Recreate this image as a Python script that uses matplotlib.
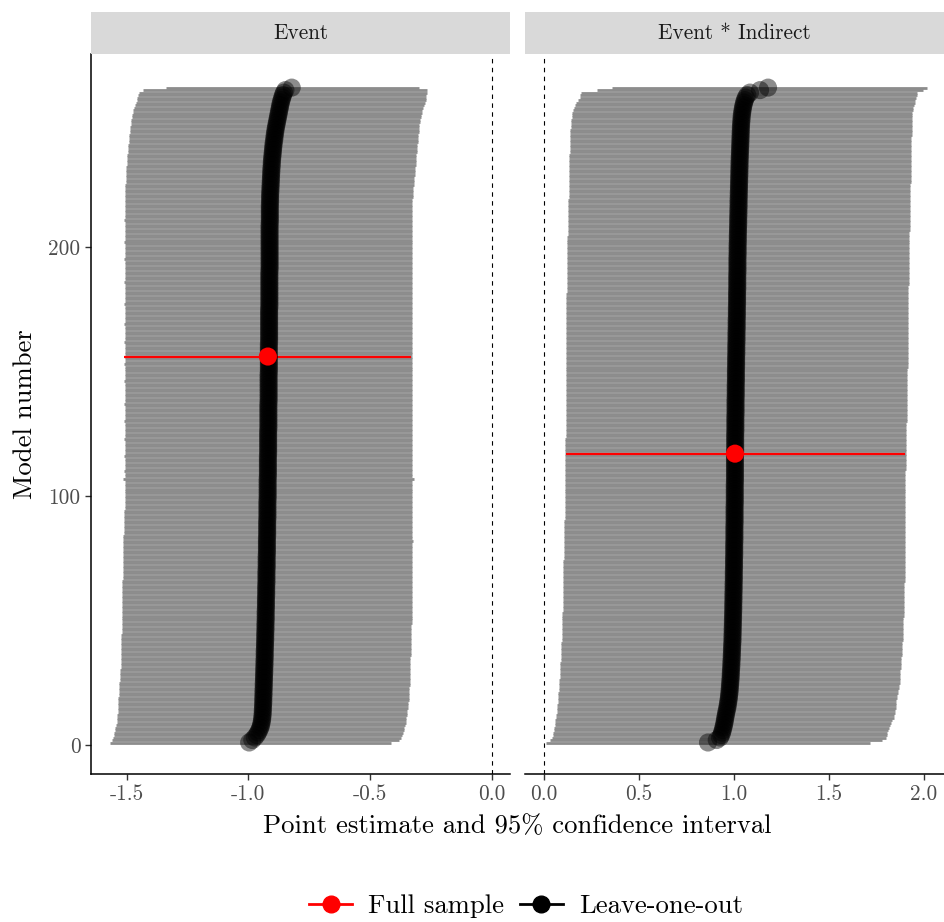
import numpy as np
import matplotlib
matplotlib.use('Agg')
import matplotlib.pyplot as plt
from matplotlib.lines import Line2D

plt.rcParams['font.family'] = ['cmr10', 'DejaVu Serif']
plt.rcParams['axes.unicode_minus'] = False
plt.rcParams['mathtext.fontset'] = 'cm'

panels = ['Event', 'Event * Indirect']

# leave-one-out estimates, sorted (model number = position)
event_est = [
    -0.997, -0.984, -0.974, -0.966, -0.960, -0.955, -0.951, -0.948, -0.946, -0.944, -0.943, -0.942,
    -0.941, -0.941, -0.940, -0.940, -0.939, -0.939, -0.939, -0.938, -0.938, -0.938, -0.937, -0.937,
    -0.937, -0.936, -0.936, -0.936, -0.935, -0.935, -0.935, -0.934, -0.934, -0.934, -0.933, -0.933,
    -0.933, -0.933, -0.932, -0.932, -0.932, -0.931, -0.931, -0.931, -0.931, -0.930, -0.930, -0.930,
    -0.930, -0.929, -0.929, -0.929, -0.929, -0.929, -0.928, -0.928, -0.928, -0.928, -0.928, -0.927,
    -0.927, -0.927, -0.927, -0.927, -0.926, -0.926, -0.926, -0.926, -0.926, -0.926, -0.925, -0.925,
    -0.925, -0.925, -0.925, -0.925, -0.924, -0.924, -0.924, -0.924, -0.924, -0.924, -0.924, -0.923,
    -0.923, -0.923, -0.923, -0.923, -0.923, -0.923, -0.922, -0.922, -0.922, -0.922, -0.922, -0.922,
    -0.922, -0.922, -0.921, -0.921, -0.921, -0.921, -0.921, -0.921, -0.921, -0.921, -0.921, -0.920,
    -0.920, -0.920, -0.920, -0.920, -0.920, -0.920, -0.920, -0.920, -0.919, -0.919, -0.919, -0.919,
    -0.919, -0.919, -0.919, -0.919, -0.919, -0.919, -0.918, -0.918, -0.918, -0.918, -0.918, -0.918,
    -0.918, -0.918, -0.918, -0.918, -0.918, -0.917, -0.917, -0.917, -0.917, -0.917, -0.917, -0.917,
    -0.917, -0.917, -0.917, -0.917, -0.917, -0.916, -0.916, -0.916, -0.916, -0.916, -0.916, -0.916,
    -0.916, -0.916, -0.916, -0.916, -0.916, -0.915, -0.915, -0.915, -0.915, -0.915, -0.915, -0.915,
    -0.915, -0.915, -0.915, -0.915, -0.915, -0.915, -0.915, -0.914, -0.914, -0.914, -0.914, -0.914,
    -0.914, -0.914, -0.914, -0.914, -0.914, -0.914, -0.914, -0.914, -0.914, -0.914, -0.913, -0.913,
    -0.913, -0.913, -0.913, -0.913, -0.913, -0.913, -0.913, -0.913, -0.913, -0.913, -0.913, -0.913,
    -0.913, -0.913, -0.913, -0.913, -0.913, -0.912, -0.912, -0.912, -0.912, -0.912, -0.912, -0.912,
    -0.912, -0.911, -0.911, -0.911, -0.911, -0.910, -0.910, -0.909, -0.909, -0.908, -0.908, -0.907,
    -0.907, -0.906, -0.906, -0.905, -0.904, -0.904, -0.903, -0.902, -0.901, -0.900, -0.899, -0.898,
    -0.897, -0.896, -0.894, -0.893, -0.892, -0.890, -0.889, -0.887, -0.885, -0.883, -0.881, -0.879,
    -0.877, -0.875, -0.873, -0.871, -0.869, -0.867, -0.864, -0.861, -0.858, -0.854, -0.848, -0.822,
]
event_lo = [
    -1.570, -1.562, -1.556, -1.553, -1.551, -1.549, -1.547, -1.544, -1.542, -1.541, -1.540, -1.539,
    -1.538, -1.537, -1.536, -1.535, -1.535, -1.534, -1.534, -1.533, -1.532, -1.532, -1.531, -1.530,
    -1.530, -1.529, -1.528, -1.527, -1.526, -1.526, -1.525, -1.525, -1.525, -1.524, -1.524, -1.524,
    -1.523, -1.523, -1.523, -1.523, -1.522, -1.522, -1.522, -1.522, -1.521, -1.521, -1.521, -1.521,
    -1.521, -1.521, -1.520, -1.520, -1.520, -1.520, -1.520, -1.519, -1.519, -1.519, -1.519, -1.519,
    -1.518, -1.518, -1.518, -1.518, -1.518, -1.518, -1.517, -1.517, -1.517, -1.517, -1.517, -1.517,
    -1.517, -1.517, -1.516, -1.516, -1.516, -1.516, -1.516, -1.515, -1.515, -1.515, -1.514, -1.514,
    -1.513, -1.513, -1.512, -1.512, -1.511, -1.511, -1.510, -1.510, -1.510, -1.510, -1.509, -1.509,
    -1.509, -1.509, -1.509, -1.509, -1.509, -1.509, -1.509, -1.509, -1.509, -1.509, -1.515, -1.509,
    -1.509, -1.510, -1.509, -1.509, -1.508, -1.509, -1.509, -1.510, -1.509, -1.509, -1.509, -1.508,
    -1.509, -1.509, -1.510, -1.509, -1.509, -1.508, -1.509, -1.509, -1.509, -1.510, -1.509, -1.509,
    -1.508, -1.509, -1.509, -1.509, -1.510, -1.509, -1.509, -1.508, -1.509, -1.509, -1.509, -1.509,
    -1.509, -1.510, -1.509, -1.509, -1.509, -1.508, -1.509, -1.509, -1.510, -1.509, -1.509, -1.509,
    -1.509, -1.509, -1.508, -1.509, -1.509, -1.510, -1.509, -1.509, -1.509, -1.509, -1.508, -1.509,
    -1.510, -1.509, -1.509, -1.509, -1.508, -1.509, -1.509, -1.509, -1.510, -1.509, -1.509, -1.509,
    -1.509, -1.508, -1.509, -1.509, -1.509, -1.510, -1.509, -1.509, -1.508, -1.509, -1.509, -1.509,
    -1.509, -1.509, -1.510, -1.509, -1.508, -1.509, -1.509, -1.509, -1.509, -1.510, -1.509, -1.509,
    -1.509, -1.508, -1.509, -1.509, -1.509, -1.509, -1.510, -1.509, -1.509, -1.508, -1.509, -1.509,
    -1.509, -1.509, -1.508, -1.508, -1.508, -1.508, -1.507, -1.506, -1.506, -1.505, -1.504, -1.504,
    -1.503, -1.503, -1.502, -1.502, -1.501, -1.500, -1.499, -1.498, -1.497, -1.496, -1.495, -1.494,
    -1.493, -1.492, -1.491, -1.490, -1.489, -1.488, -1.487, -1.486, -1.484, -1.483, -1.481, -1.480,
    -1.478, -1.476, -1.473, -1.469, -1.466, -1.462, -1.460, -1.456, -1.452, -1.450, -1.434, -1.340,
]
event_hi = [
    -0.416, -0.382, -0.372, -0.367, -0.364, -0.361, -0.359, -0.356, -0.354, -0.352, -0.351, -0.350,
    -0.348, -0.347, -0.345, -0.344, -0.343, -0.342, -0.341, -0.340, -0.340, -0.339, -0.339, -0.338,
    -0.338, -0.338, -0.337, -0.337, -0.337, -0.336, -0.336, -0.335, -0.335, -0.334, -0.334, -0.333,
    -0.333, -0.333, -0.332, -0.332, -0.332, -0.331, -0.331, -0.331, -0.330, -0.330, -0.330, -0.330,
    -0.329, -0.329, -0.329, -0.329, -0.328, -0.328, -0.328, -0.328, -0.328, -0.327, -0.327, -0.327,
    -0.327, -0.327, -0.327, -0.327, -0.327, -0.327, -0.327, -0.327, -0.327, -0.327, -0.327, -0.327,
    -0.327, -0.327, -0.327, -0.327, -0.327, -0.327, -0.327, -0.327, -0.327, -0.322, -0.327, -0.327,
    -0.327, -0.327, -0.327, -0.327, -0.327, -0.327, -0.327, -0.327, -0.327, -0.327, -0.327, -0.327,
    -0.327, -0.327, -0.327, -0.327, -0.327, -0.327, -0.327, -0.327, -0.327, -0.327, -0.320, -0.327,
    -0.327, -0.326, -0.327, -0.327, -0.328, -0.327, -0.327, -0.326, -0.327, -0.327, -0.327, -0.328,
    -0.327, -0.327, -0.326, -0.327, -0.327, -0.328, -0.327, -0.327, -0.327, -0.326, -0.327, -0.327,
    -0.328, -0.327, -0.327, -0.327, -0.326, -0.327, -0.327, -0.328, -0.327, -0.327, -0.327, -0.327,
    -0.327, -0.326, -0.327, -0.327, -0.327, -0.328, -0.327, -0.327, -0.326, -0.327, -0.327, -0.327,
    -0.327, -0.327, -0.328, -0.327, -0.327, -0.326, -0.327, -0.327, -0.327, -0.327, -0.328, -0.327,
    -0.326, -0.327, -0.327, -0.327, -0.328, -0.327, -0.327, -0.327, -0.326, -0.327, -0.327, -0.327,
    -0.327, -0.328, -0.327, -0.327, -0.327, -0.326, -0.327, -0.327, -0.328, -0.327, -0.327, -0.327,
    -0.327, -0.327, -0.326, -0.327, -0.328, -0.327, -0.327, -0.327, -0.327, -0.326, -0.327, -0.327,
    -0.327, -0.328, -0.327, -0.327, -0.327, -0.327, -0.326, -0.327, -0.327, -0.328, -0.327, -0.327,
    -0.327, -0.326, -0.326, -0.325, -0.324, -0.324, -0.323, -0.322, -0.321, -0.320, -0.319, -0.318,
    -0.317, -0.316, -0.315, -0.314, -0.313, -0.313, -0.312, -0.311, -0.310, -0.309, -0.308, -0.307,
    -0.306, -0.305, -0.304, -0.303, -0.302, -0.301, -0.300, -0.299, -0.297, -0.295, -0.293, -0.291,
    -0.289, -0.287, -0.285, -0.282, -0.279, -0.276, -0.272, -0.270, -0.269, -0.268, -0.268, -0.300,
]

inter_est = [
    0.863, 0.909, 0.926, 0.933, 0.937, 0.941, 0.944, 0.947, 0.950, 0.952, 0.954, 0.957,
    0.959, 0.962, 0.965, 0.967, 0.969, 0.971, 0.973, 0.974, 0.976, 0.977, 0.978, 0.979,
    0.980, 0.981, 0.982, 0.983, 0.983, 0.984, 0.985, 0.986, 0.986, 0.987, 0.988, 0.988,
    0.989, 0.989, 0.990, 0.990, 0.991, 0.992, 0.992, 0.992, 0.993, 0.993, 0.993, 0.994,
    0.994, 0.994, 0.995, 0.995, 0.995, 0.996, 0.996, 0.996, 0.996, 0.997, 0.997, 0.997,
    0.997, 0.998, 0.998, 0.998, 0.998, 0.999, 0.999, 0.999, 0.999, 0.999, 1.000, 1.000,
    1.000, 1.000, 1.000, 1.001, 1.001, 1.001, 1.001, 1.001, 1.001, 1.002, 1.002, 1.002,
    1.002, 1.002, 1.002, 1.002, 1.003, 1.003, 1.003, 1.003, 1.003, 1.003, 1.003, 1.003,
    1.004, 1.004, 1.004, 1.004, 1.004, 1.004, 1.004, 1.004, 1.004, 1.005, 1.005, 1.005,
    1.005, 1.005, 1.005, 1.005, 1.005, 1.005, 1.005, 1.005, 1.005, 1.006, 1.006, 1.006,
    1.006, 1.006, 1.006, 1.006, 1.006, 1.007, 1.007, 1.007, 1.007, 1.007, 1.007, 1.007,
    1.008, 1.008, 1.008, 1.008, 1.008, 1.008, 1.008, 1.009, 1.009, 1.009, 1.009, 1.009,
    1.009, 1.010, 1.010, 1.010, 1.010, 1.010, 1.010, 1.011, 1.011, 1.011, 1.011, 1.011,
    1.012, 1.012, 1.012, 1.012, 1.012, 1.013, 1.013, 1.013, 1.013, 1.013, 1.014, 1.014,
    1.014, 1.014, 1.014, 1.015, 1.015, 1.015, 1.015, 1.015, 1.016, 1.016, 1.016, 1.016,
    1.016, 1.016, 1.017, 1.017, 1.017, 1.017, 1.017, 1.017, 1.017, 1.018, 1.018, 1.018,
    1.018, 1.018, 1.018, 1.018, 1.019, 1.019, 1.019, 1.019, 1.019, 1.020, 1.020, 1.020,
    1.020, 1.021, 1.021, 1.021, 1.022, 1.022, 1.022, 1.022, 1.023, 1.023, 1.023, 1.024,
    1.024, 1.024, 1.024, 1.025, 1.025, 1.025, 1.026, 1.026, 1.026, 1.027, 1.027, 1.027,
    1.028, 1.028, 1.028, 1.029, 1.029, 1.029, 1.030, 1.030, 1.031, 1.031, 1.032, 1.032,
    1.033, 1.033, 1.034, 1.034, 1.035, 1.035, 1.036, 1.036, 1.037, 1.038, 1.039, 1.040,
    1.041, 1.043, 1.045, 1.047, 1.050, 1.053, 1.057, 1.062, 1.070, 1.084, 1.137, 1.179,
]
inter_lo = [
    0.010, 0.032, 0.040, 0.045, 0.049, 0.052, 0.055, 0.057, 0.058, 0.060, 0.062, 0.064,
    0.066, 0.068, 0.070, 0.071, 0.072, 0.073, 0.074, 0.075, 0.076, 0.077, 0.078, 0.079,
    0.080, 0.081, 0.082, 0.083, 0.084, 0.084, 0.085, 0.086, 0.086, 0.087, 0.088, 0.088,
    0.089, 0.089, 0.090, 0.091, 0.092, 0.093, 0.093, 0.094, 0.094, 0.095, 0.095, 0.096,
    0.096, 0.096, 0.097, 0.097, 0.097, 0.098, 0.098, 0.098, 0.098, 0.099, 0.099, 0.099,
    0.099, 0.099, 0.100, 0.100, 0.100, 0.100, 0.100, 0.100, 0.101, 0.101, 0.101, 0.102,
    0.102, 0.102, 0.103, 0.103, 0.103, 0.104, 0.104, 0.104, 0.105, 0.105, 0.105, 0.106,
    0.106, 0.106, 0.107, 0.107, 0.107, 0.107, 0.108, 0.108, 0.108, 0.108, 0.109, 0.109,
    0.109, 0.109, 0.110, 0.110, 0.110, 0.110, 0.110, 0.111, 0.111, 0.111, 0.111, 0.111,
    0.111, 0.111, 0.112, 0.112, 0.112, 0.112, 0.112, 0.112, 0.113, 0.113, 0.113, 0.113,
    0.113, 0.113, 0.113, 0.114, 0.114, 0.114, 0.114, 0.114, 0.114, 0.114, 0.115, 0.115,
    0.115, 0.115, 0.115, 0.115, 0.115, 0.115, 0.115, 0.116, 0.116, 0.116, 0.116, 0.116,
    0.116, 0.116, 0.116, 0.116, 0.116, 0.116, 0.116, 0.116, 0.116, 0.116, 0.116, 0.116,
    0.116, 0.116, 0.116, 0.116, 0.117, 0.117, 0.117, 0.117, 0.117, 0.117, 0.117, 0.117,
    0.117, 0.117, 0.117, 0.117, 0.118, 0.118, 0.118, 0.118, 0.118, 0.118, 0.118, 0.118,
    0.118, 0.119, 0.119, 0.119, 0.119, 0.119, 0.119, 0.120, 0.120, 0.120, 0.120, 0.120,
    0.120, 0.121, 0.121, 0.121, 0.121, 0.122, 0.122, 0.122, 0.122, 0.123, 0.123, 0.123,
    0.124, 0.124, 0.124, 0.125, 0.125, 0.125, 0.126, 0.126, 0.126, 0.127, 0.127, 0.127,
    0.128, 0.128, 0.128, 0.129, 0.129, 0.129, 0.130, 0.130, 0.130, 0.131, 0.131, 0.131,
    0.132, 0.132, 0.132, 0.133, 0.133, 0.133, 0.134, 0.134, 0.134, 0.135, 0.135, 0.136,
    0.136, 0.137, 0.137, 0.138, 0.138, 0.139, 0.139, 0.140, 0.141, 0.142, 0.143, 0.145,
    0.147, 0.149, 0.152, 0.156, 0.162, 0.170, 0.180, 0.190, 0.192, 0.195, 0.277, 0.356,
]
inter_hi = [
    1.716, 1.777, 1.800, 1.803, 1.806, 1.810, 1.815, 1.820, 1.826, 1.832, 1.840, 1.844,
    1.846, 1.848, 1.850, 1.852, 1.853, 1.855, 1.857, 1.859, 1.861, 1.864, 1.867, 1.870,
    1.871, 1.872, 1.873, 1.874, 1.875, 1.876, 1.877, 1.878, 1.879, 1.880, 1.881, 1.882,
    1.883, 1.884, 1.885, 1.886, 1.886, 1.887, 1.887, 1.888, 1.888, 1.889, 1.889, 1.890,
    1.890, 1.891, 1.891, 1.892, 1.892, 1.893, 1.893, 1.894, 1.894, 1.895, 1.895, 1.896,
    1.896, 1.896, 1.897, 1.897, 1.897, 1.898, 1.898, 1.898, 1.899, 1.899, 1.899, 1.899,
    1.900, 1.900, 1.900, 1.900, 1.900, 1.900, 1.900, 1.900, 1.900, 1.900, 1.900, 1.900,
    1.900, 1.900, 1.900, 1.900, 1.900, 1.900, 1.900, 1.900, 1.900, 1.900, 1.900, 1.900,
    1.900, 1.900, 1.900, 1.900, 1.901, 1.901, 1.901, 1.901, 1.901, 1.902, 1.902, 1.902,
    1.902, 1.902, 1.903, 1.903, 1.903, 1.903, 1.904, 1.904, 1.904, 1.904, 1.905, 1.905,
    1.905, 1.905, 1.906, 1.906, 1.906, 1.906, 1.907, 1.907, 1.907, 1.908, 1.908, 1.908,
    1.908, 1.909, 1.909, 1.909, 1.909, 1.910, 1.910, 1.910, 1.910, 1.910, 1.911, 1.911,
    1.911, 1.911, 1.911, 1.912, 1.912, 1.912, 1.912, 1.913, 1.913, 1.913, 1.913, 1.913,
    1.914, 1.914, 1.914, 1.914, 1.914, 1.915, 1.915, 1.915, 1.915, 1.915, 1.916, 1.916,
    1.916, 1.916, 1.916, 1.917, 1.917, 1.917, 1.917, 1.917, 1.918, 1.918, 1.918, 1.918,
    1.918, 1.918, 1.918, 1.918, 1.919, 1.919, 1.919, 1.919, 1.919, 1.920, 1.920, 1.920,
    1.920, 1.920, 1.921, 1.921, 1.921, 1.921, 1.922, 1.922, 1.922, 1.922, 1.923, 1.923,
    1.923, 1.923, 1.924, 1.924, 1.924, 1.925, 1.925, 1.925, 1.925, 1.926, 1.926, 1.926,
    1.926, 1.927, 1.927, 1.927, 1.927, 1.928, 1.928, 1.928, 1.928, 1.929, 1.929, 1.929,
    1.929, 1.930, 1.930, 1.930, 1.930, 1.930, 1.931, 1.931, 1.931, 1.931, 1.932, 1.932,
    1.932, 1.933, 1.933, 1.933, 1.934, 1.934, 1.935, 1.935, 1.936, 1.936, 1.937, 1.937,
    1.938, 1.939, 1.940, 1.942, 1.945, 1.950, 1.953, 1.958, 1.962, 1.965, 1.997, 2.014,
]

# full-sample estimate per panel
full_est = [-0.920, 1.005]
full_lo = [-1.512, 0.116]
full_hi = [-0.330, 1.900]
full_model = [156, 117]

est_all = [event_est, inter_est]
lo_all = [event_lo, inter_lo]
hi_all = [event_hi, inter_hi]

xticks_all = [[-1.5, -1.0, -0.5, 0.0], [0.0, 0.5, 1.0, 1.5, 2.0]]
xticklabels_all = [['-1.5', '-1.0', '-0.5', '0.0'], ['0.0', '0.5', '1.0', '1.5', '2.0']]
xlims = [(-1.647, 0.075), (-0.100, 2.105)]
yticks = [0, 100, 200]

W, H = 944, 922
fig = plt.figure(figsize=(W / 100, H / 100), dpi=100)

panel_left = [91, 525]
panel_w = 419
panel_top, panel_bot = 54, 774
strip_h = 42
tick_fs = 15.3
title_fs = 19.2

for i in range(2):
    ax = fig.add_axes([panel_left[i] / W, (H - panel_bot) / H, panel_w / W,
                       (panel_bot - panel_top) / H])
    est = np.array(est_all[i])
    models = np.arange(1, len(est) + 1)
    ax.hlines(models, lo_all[i], hi_all[i], color='#8c8c8c', lw=2.0, zorder=1)
    ax.axvline(0, color='black', lw=0.8, ls=(0, (4, 4)), zorder=0)
    ax.hlines(full_model[i], full_lo[i], full_hi[i], color='#ff0000', lw=1.6, zorder=2)
    ax.scatter(est, models, s=170, color='black', alpha=0.45, edgecolors='none', zorder=3)
    ax.scatter([full_est[i]], [full_model[i]], s=170, color='#ff0000',
               edgecolors='none', zorder=4)

    ax.set_xlim(*xlims[i])
    ax.set_ylim(-11.65, 277.5)
    ax.set_xticks(xticks_all[i])
    ax.set_xticklabels(xticklabels_all[i], fontsize=tick_fs, color='#4d4d4d')
    ax.tick_params(axis='x', length=4.5, width=1.0, color='#333333', pad=3)
    for s in ['top', 'right']:
        ax.spines[s].set_visible(False)
    ax.spines['bottom'].set_linewidth(1.1)
    if i == 0:
        ax.set_yticks(yticks)
        ax.set_yticklabels([str(v) for v in yticks], fontsize=tick_fs, color='#4d4d4d')
        ax.tick_params(axis='y', length=4.5, width=1.0, color='#333333', pad=3)
        ax.spines['left'].set_linewidth(1.1)
    else:
        ax.set_yticks([])
        ax.spines['left'].set_visible(False)

    sax = fig.add_axes([panel_left[i] / W, (H - panel_top) / H, panel_w / W, strip_h / H])
    sax.set_facecolor('#d9d9d9')
    sax.set_xticks([])
    sax.set_yticks([])
    for s in sax.spines.values():
        s.set_visible(False)
    sax.text(0.5, 0.5, panels[i], ha='center', va='center', fontsize=tick_fs,
             color='#1a1a1a', transform=sax.transAxes)

fig.text(517.5 / W, (H - 826) / H, 'Point estimate and 95% confidence interval',
         ha='center', va='center', fontsize=title_fs)
fig.text(25 / W, (H - 414) / H, 'Model number', ha='center', va='center',
         rotation=90, fontsize=title_fs)

handles = [
    Line2D([], [], color='#ff0000', lw=2, marker='o', markersize=12),
    Line2D([], [], color='black', lw=2, marker='o', markersize=12),
]
fig.legend(handles, ['Full sample', 'Leave-one-out'], loc='center',
           bbox_to_anchor=(526 / W, (H - 906) / H), ncol=2, frameon=False,
           fontsize=title_fs, handlelength=1.6, handletextpad=0.6, columnspacing=0.6)

fig.savefig('out.png', dpi=100)
